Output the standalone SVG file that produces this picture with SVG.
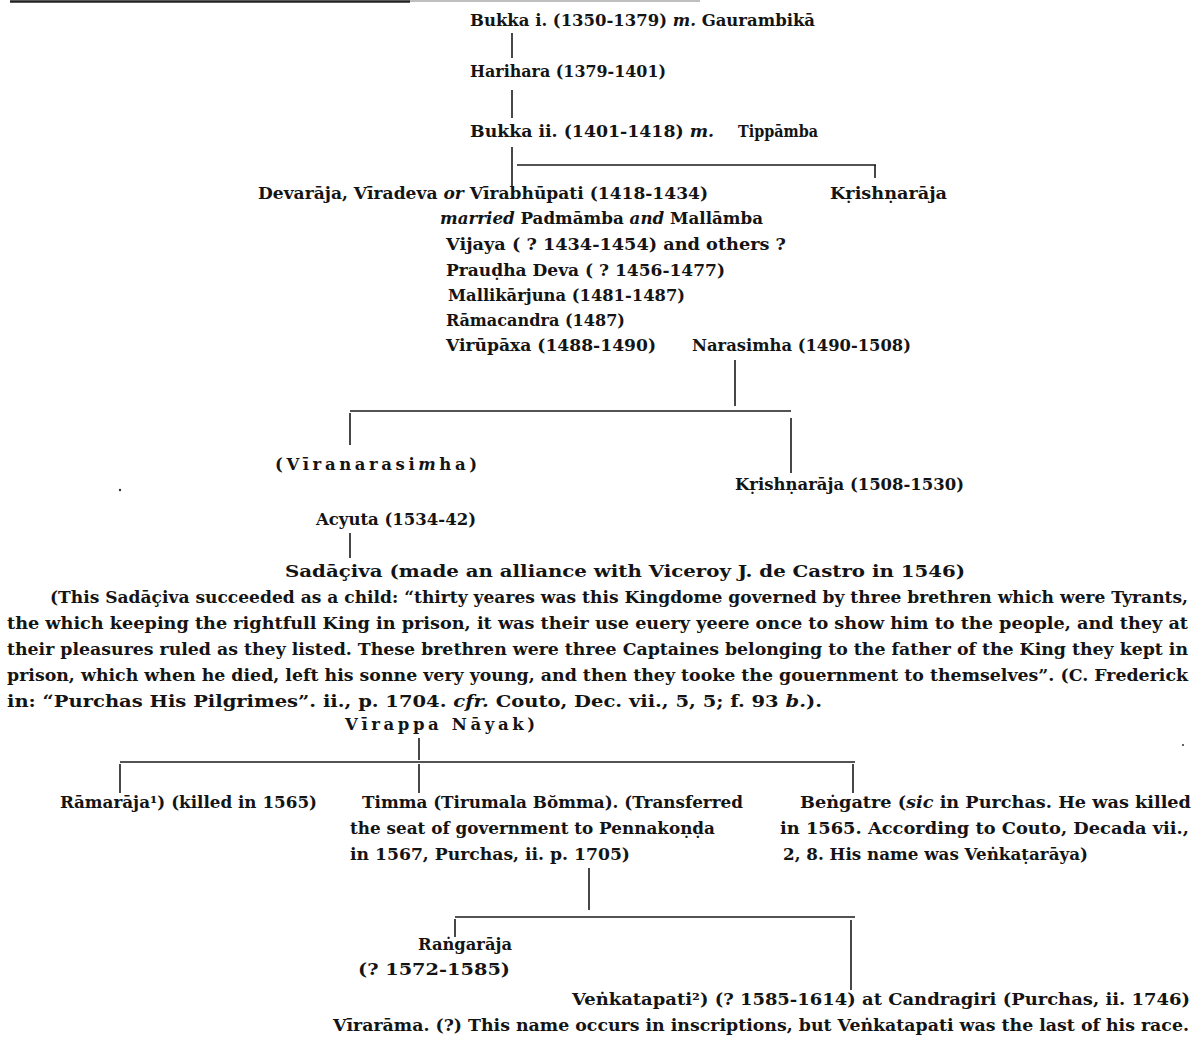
<svg xmlns="http://www.w3.org/2000/svg" width="1196" height="1063" viewBox="0 0 1196 1063">
<style>
text{font-family:"DejaVu Serif","Liberation Serif",serif;font-weight:bold;font-size:16.5px;fill:#141414}
.i{font-style:italic}
.c line{stroke:#1a1a1a;stroke-width:1.6;fill:none}
</style>
<rect width="1196" height="1063" fill="#fff"/>
<g id="scan-rule">
<line x1="10" y1="1.5" x2="410" y2="1.5" stroke="#222" stroke-width="2.5"/>
<line x1="410" y1="1" x2="700" y2="1" stroke="#aaa" stroke-width="1.5"/>
</g>
<g class="c" id="connectors">
<line x1="512" y1="33" x2="512" y2="58"/>
<line x1="512" y1="90" x2="512" y2="118"/>
<line x1="512" y1="147" x2="512" y2="186"/>
<line x1="517" y1="165" x2="876" y2="165"/>
<line x1="875" y1="165" x2="875" y2="178"/>
<line x1="735" y1="360" x2="735" y2="406"/>
<line x1="350" y1="411" x2="791" y2="411"/>
<line x1="350" y1="413" x2="350" y2="445"/>
<line x1="791" y1="418" x2="791" y2="473"/>
<line x1="350" y1="533" x2="350" y2="558"/>
<line x1="419" y1="738" x2="419" y2="760"/>
<line x1="120" y1="762" x2="855" y2="762"/>
<line x1="120" y1="764" x2="120" y2="793"/>
<line x1="419" y1="764" x2="419" y2="793"/>
<line x1="853" y1="764" x2="853" y2="793"/>
<line x1="589" y1="868" x2="589" y2="910"/>
<line x1="455" y1="917" x2="855" y2="917"/>
<line x1="455" y1="919" x2="455" y2="937"/>
<line x1="851" y1="920" x2="851" y2="990"/>
</g>
<g id="bukka1"><text x="470" y="26" textLength="345" lengthAdjust="spacingAndGlyphs">Bukka i. (1350-1379) <tspan class="i">m.</tspan> Gaurambikā</text></g>
<g id="harihara"><text x="470" y="77" textLength="196" lengthAdjust="spacingAndGlyphs">Harihara (1379-1401)</text></g>
<g id="bukka2"><text x="470" y="137" textLength="244" lengthAdjust="spacingAndGlyphs">Bukka ii. (1401-1418) <tspan class="i">m.</tspan></text><text x="738" y="137" textLength="80" lengthAdjust="spacingAndGlyphs">Tippāmba</text></g>
<g id="devaraja"><text x="258" y="199" textLength="450" lengthAdjust="spacingAndGlyphs">Devarāja, Vīradeva <tspan class="i">or</tspan> Vīrabhūpati (1418-1434)</text>
<text x="440" y="224" textLength="323" lengthAdjust="spacingAndGlyphs"><tspan class="i">married</tspan> Padmāmba <tspan class="i">and</tspan> Mallāmba</text></g>
<g id="krishnaraja1"><text x="830" y="199" textLength="117" lengthAdjust="spacingAndGlyphs">Kṛishṇarāja</text></g>
<g id="vijaya"><text x="446" y="250" textLength="340" lengthAdjust="spacingAndGlyphs">Vijaya ( ?   1434-1454)  and others ?</text></g>
<g id="praudha"><text x="446" y="276" textLength="279" lengthAdjust="spacingAndGlyphs">Prauḍha Deva  ( ? 1456-1477)</text></g>
<g id="mallikarjuna"><text x="448" y="301" textLength="237" lengthAdjust="spacingAndGlyphs">Mallikārjuna (1481-1487)</text></g>
<g id="ramacandra"><text x="446" y="326" textLength="179" lengthAdjust="spacingAndGlyphs">Rāmacandra (1487)</text></g>
<g id="virupaxa"><text x="446" y="351" textLength="210" lengthAdjust="spacingAndGlyphs">Virūpāxa (1488-1490)</text></g>
<g id="narasimha"><text x="692" y="351" textLength="219" lengthAdjust="spacingAndGlyphs">Narasimha (1490-1508)</text></g>
<g id="viranarasimha"><text x="275" y="470" textLength="202" lengthAdjust="spacing">(Vīranarasi<tspan class="i">m</tspan>ha)</text></g>
<g id="krishnaraja2"><text x="735" y="490" textLength="229" lengthAdjust="spacingAndGlyphs">Kṛishṇarāja (1508-1530)</text></g>
<g id="acyuta"><text x="316" y="525" textLength="160" lengthAdjust="spacingAndGlyphs">Acyuta (1534-42)</text></g>
<g id="sadaciva"><text x="285" y="577" textLength="680" lengthAdjust="spacingAndGlyphs">Sadāçiva (made an alliance with Viceroy J. de Castro in 1546)</text></g>
<g id="note">
<text x="50" y="603" textLength="1138" lengthAdjust="spacingAndGlyphs">(This Sadāçiva succeeded as a child: “thirty yeares was this Kingdome governed by three brethren which were Tyrants,</text>
<text x="7" y="629" textLength="1181" lengthAdjust="spacingAndGlyphs">the which keeping the rightfull King in prison, it was their use euery yeere once to show him to the people, and they at</text>
<text x="7" y="655" textLength="1181" lengthAdjust="spacingAndGlyphs">their pleasures ruled as they listed.   These brethren were three Captaines belonging to the father of the King they kept in</text>
<text x="7" y="681" textLength="1181" lengthAdjust="spacingAndGlyphs">prison, which when he died, left his sonne very young, and then they tooke the gouernment to themselves”.  (C. Frederick</text>
<text x="7" y="707" textLength="815" lengthAdjust="spacingAndGlyphs">in: “Purchas His Pilgrimes”. ii., p. 1704. <tspan class="i">cfr.</tspan> Couto, Dec. vii., 5, 5; f. 93 <tspan class="i">b.</tspan>).</text>
</g>
<g id="virappa"><text x="345" y="730" textLength="190" lengthAdjust="spacing">Vīrappa Nāyak)</text></g>
<g id="ramaraja"><text x="60" y="808" textLength="257" lengthAdjust="spacingAndGlyphs">Rāmarāja¹)  (killed in 1565)</text></g>
<g id="timma">
<text x="362" y="808" textLength="381" lengthAdjust="spacingAndGlyphs">Timma (Tirumala Bŏmma). (Transferred</text>
<text x="350" y="834" textLength="365" lengthAdjust="spacingAndGlyphs">the seat of government to Pennakoṇḍa</text>
<text x="350" y="860" textLength="280" lengthAdjust="spacingAndGlyphs">in 1567, Purchas, ii. p. 1705)</text>
</g>
<g id="bengatre">
<text x="800" y="808" textLength="391" lengthAdjust="spacingAndGlyphs">Beṅgatre (<tspan class="i">sic</tspan> in Purchas.   He was killed</text>
<text x="780" y="834" textLength="409" lengthAdjust="spacingAndGlyphs">in 1565.  According to Couto, Decada vii.,</text>
<text x="783" y="860" textLength="305" lengthAdjust="spacingAndGlyphs">2, 8. His name was Veṅkaṭarāya)</text>
</g>
<g id="rangaraja">
<text x="418" y="950" textLength="94" lengthAdjust="spacingAndGlyphs">Raṅgarāja</text>
<text x="358" y="975" textLength="152" lengthAdjust="spacingAndGlyphs">(? 1572-1585)</text>
</g>
<g id="venkatapati"><text x="572" y="1005" textLength="618" lengthAdjust="spacingAndGlyphs">Veṅkatapati²)  (? 1585-1614)  at Candragiri (Purchas, ii. 1746)</text></g>
<g id="virarama"><text x="333" y="1031" textLength="856" lengthAdjust="spacingAndGlyphs">Vīrarāma. (?)  This name occurs in inscriptions, but Veṅkatapati was the last of his race.</text></g>
<g id="specks" fill="#333">
<circle cx="120" cy="490" r="1.2"/>
<circle cx="1183" cy="745" r="1"/>
</g>
</svg>
